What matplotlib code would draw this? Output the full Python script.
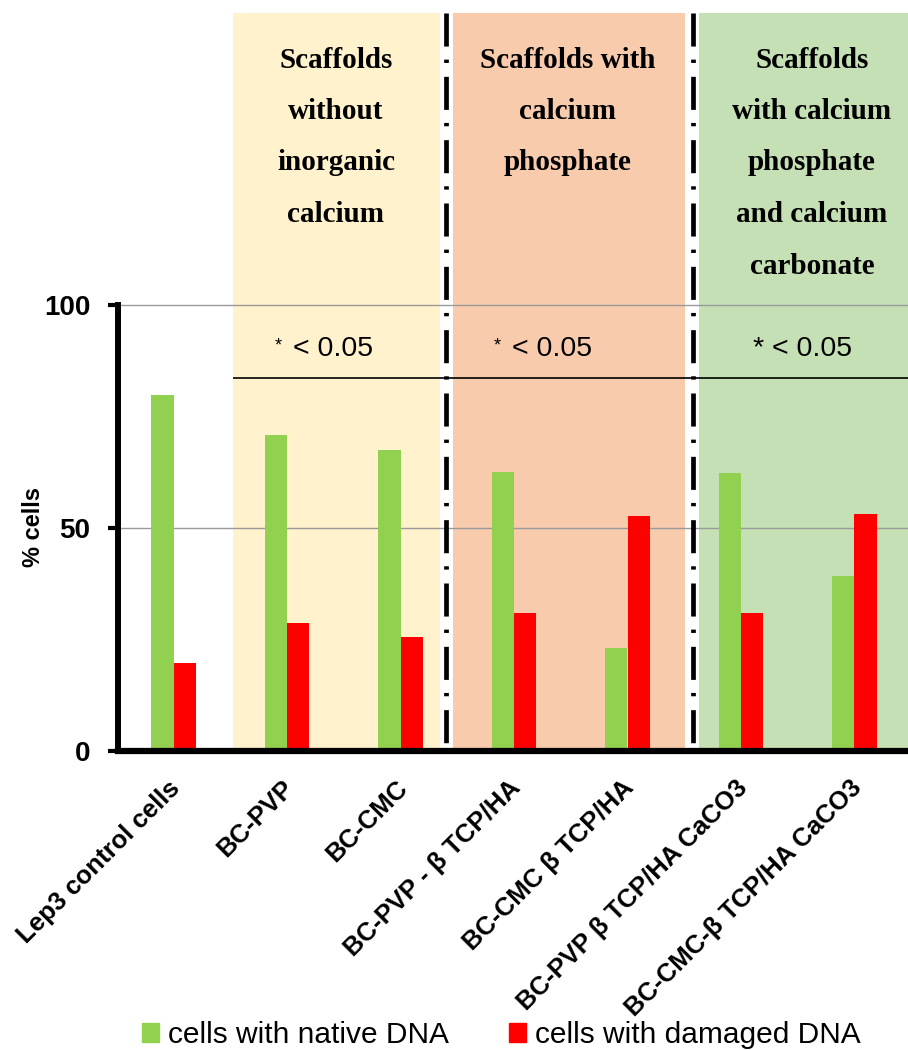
import matplotlib
matplotlib.use("Agg")
import matplotlib.pyplot as plt
import numpy as np
from matplotlib.patches import Patch
from matplotlib.transforms import ScaledTranslation

# ---------------- data ----------------
categories = ["Lep3 control cells", "BC-PVP", "BC-CMC", "BC-PVP - \u03b2 TCP/HA",
              "BC-CMC \u03b2 TCP/HA", "BC-PVP \u03b2 TCP/HA CaCO3", "BC-CMC-\u03b2 TCP/HA CaCO3"]
native = [79.8, 70.9, 67.4, 62.6, 23.0, 62.3, 39.2]
damaged = [19.8, 28.7, 25.5, 30.9, 52.8, 30.9, 53.2]
series_names = ["cells with native DNA", "cells with damaged DNA"]
yticks = [0, 50, 100]
group_titles = [["Scaffolds", "without", "inorganic", "calcium"],
                ["Scaffolds with", "calcium", "phosphate"],
                ["Scaffolds", "with calcium", "phosphate", "and calcium", "carbonate"]]
sig_label = "< 0.05"
sig_level = 83.6

# ---------------- style ----------------
plt.rcParams['font.family'] = ['Liberation Sans', 'DejaVu Sans']
plt.rcParams['lines.scale_dashes'] = False

W, H = 908, 1050
fig = plt.figure(figsize=(W / 100, H / 100), dpi=100)
ax_left, ax_right, ax_zero, ax_top = 118, 908, 751, 13
ax = fig.add_axes([ax_left / W, 1 - ax_zero / H, (ax_right - ax_left) / W, (ax_zero - ax_top) / H])

px_per_cat = 113.5
x0_px = 173.5
px_per_unit = 4.46
xmin = (ax_left - x0_px) / px_per_cat
xmax = (ax_right - x0_px) / px_per_cat
ytop = (ax_zero - ax_top) / px_per_unit
ax.set_xlim(xmin, xmax)
ax.set_ylim(0, ytop)

def dx(px):
    return (px - x0_px) / px_per_cat

def dy(py):
    return (ax_zero - py) / px_per_unit

# background panels
panel_spans = [(dx(233), dx(440), '#FFF2CC'),
               (dx(453), dx(685), '#F8CBAD'),
               (dx(699), xmax + 0.1, '#C5E0B4')]
for a, b, c in panel_spans:
    ax.axvspan(a, b, color=c, lw=0, zorder=0)

# separators (dash-dot)
for xs in [dx(446), dx(693)]:
    ax.plot([xs, xs], [ytop, 0], color='black', lw=3.4,
            dashes=(23.8, 9.4, 2.4, 10.0), zorder=2,
            dash_capstyle='butt')

# gridlines
for g in [50, 100]:
    ax.axhline(g, color='#9a9a9a', lw=1.0, zorder=1)

# significance line
ax.hlines(sig_level, dx(233), xmax, color='black', lw=1.2, zorder=2)

# bars
x = np.arange(len(categories))
w = 0.198
ax.bar(x - w / 2, native, w, color='#92D050', zorder=3, label=series_names[0])
ax.bar(x + w / 2, damaged, w, color='#FF0000', zorder=3, label=series_names[1])

# spines / ticks
for s in ['top', 'right']:
    ax.spines[s].set_visible(False)
ax.spines['left'].set_linewidth(4.3)
ax.spines['left'].set_bounds(0, 100)
ax.spines['bottom'].set_linewidth(4.5)
ax.spines['left'].set_zorder(5)
ax.spines['bottom'].set_zorder(5)

ax.set_yticks(yticks)
ax.set_yticklabels([str(v) for v in yticks], fontsize=20, fontweight='bold')
ax.tick_params(axis='y', direction='out', length=7, width=3, pad=13)

ax.set_xticks(x)
ax.set_xticklabels(categories, rotation=45, ha='right', va='center',
                   rotation_mode='anchor', fontsize=18.5, fontweight='bold')
ax.tick_params(axis='x', length=0, pad=24)
offset = ScaledTranslation(3.0 / 100, 0, fig.dpi_scale_trans)
for lab in ax.get_xticklabels():
    lab.set_transform(lab.get_transform() + offset)

ax.set_ylabel('% cells', fontsize=17, fontweight='bold')
ax.yaxis.set_label_coords((45 - ax_left) / (ax_right - ax_left), (ax_zero - 527) / (ax_zero - ax_top))

# panel titles
title_centers = [dx(336), dx(568), dx(812)]
for cx, lines in zip(title_centers, group_titles):
    for i, line in enumerate(lines):
        ax.text(cx, dy(60 + 51.5 * i), line, ha='center', va='center',
                fontsize=21, fontweight='bold', family=['Liberation Serif', 'DejaVu Serif'],
                zorder=4)

# significance texts
ax.text(dx(278.5), dy(346), '*', ha='center', va='center', fontsize=13, zorder=4)
ax.text(dx(293), dy(349), sig_label, ha='left', va='center', fontsize=20.5, zorder=4)
ax.text(dx(497.5), dy(346), '*', ha='center', va='center', fontsize=13, zorder=4)
ax.text(dx(512), dy(349), sig_label, ha='left', va='center', fontsize=20.5, zorder=4)
ax.text(dx(753), dy(349), '* ' + sig_label, ha='left', va='center', fontsize=20.5, zorder=4)

# legend
handles = [Patch(color='#92D050'), Patch(color='#FF0000')]
fig.legend(handles, series_names, loc='center left',
           bbox_to_anchor=(142 / W, 1 - 1035 / H), ncol=2, frameon=False,
           fontsize=21.5, handlelength=0.57, handleheight=0.57, handletextpad=0.3,
           columnspacing=2.0, borderpad=0, borderaxespad=0)

fig.savefig('out.png', dpi=100)
